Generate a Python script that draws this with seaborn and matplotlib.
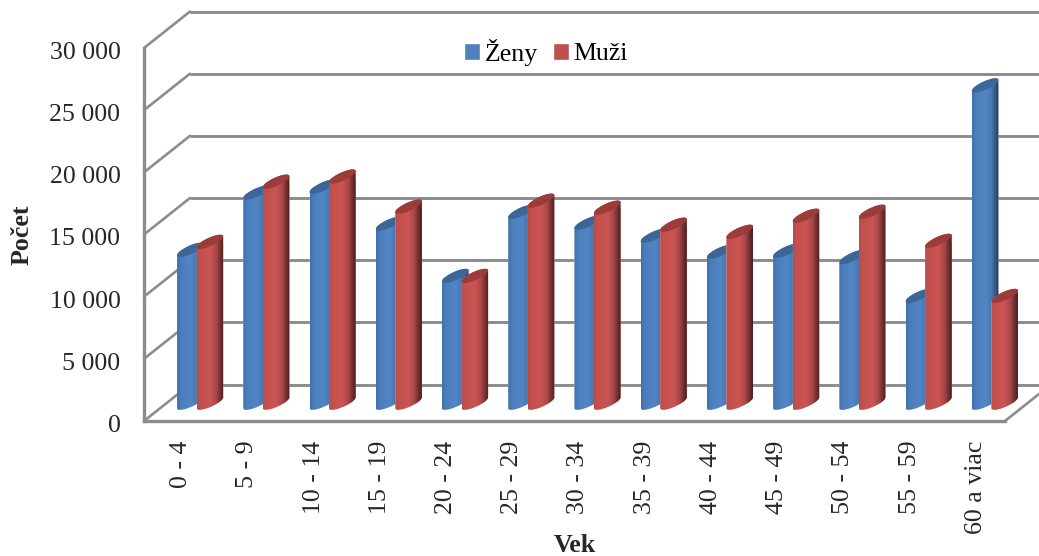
import numpy as np
import pandas as pd
import matplotlib
matplotlib.use("Agg")
import matplotlib.pyplot as plt
from matplotlib.colors import LinearSegmentedColormap
from matplotlib.patches import Polygon
from matplotlib.transforms import ScaledTranslation
import seaborn as sns

categories = ["0 - 4", "5 - 9", "10 - 14", "15 - 19", "20 - 24", "25 - 29", "30 - 34",
              "35 - 39", "40 - 44", "45 - 49", "50 - 54", "55 - 59", "60 a viac"]
zeny = [12300, 16900, 17380, 14400, 10200, 15360, 14480, 13430, 12140, 12220, 11730, 8590, 25520]
muzi = [12940, 17780, 18190, 15770, 10200, 16250, 15690, 14320, 13750, 15040, 15360, 13020, 8590]
y_ticks = [0, 5000, 10000, 15000, 20000, 25000, 30000]
y_tick_labels = ["0", "5 000", "10 000", "15 000", "20 000", "25 000", "30 000"]
series_names = ["Ženy", "Muži"]

W, H = 1039, 556
GRID = "#8c8c8c"
LW = 2.1
FONT = 18.6

sns.set_theme(style="white")
plt.rcParams["font.family"] = ["Liberation Serif", "DejaVu Serif"]
plt.rcParams["text.color"] = "black"

df = pd.DataFrame({
    "Vek": categories * 2,
    "Počet": zeny + muzi,
    "Pohlavie": [series_names[0]] * len(categories) + [series_names[1]] * len(categories),
})

fig = plt.figure(figsize=(W / 100, H / 100), dpi=100, facecolor="white")

L, R, B, T = 144, 1005, 421, 48   # front plane in pixels
DX_PX, DY_PX = 46, 36.5           # depth of the plot box


def rect(dx=0.0, dy=0.0):
    return [(L + dx) / W, 1 - (B - dy) / H, (R - L) / W, (B - T) / H]


ax = fig.add_axes(rect(), zorder=1)
ax.patch.set_alpha(0)
xlim = (-0.5, len(categories) - 0.5)
ylim = (0, 30000)
ax.set_xlim(*xlim)
ax.set_ylim(*ylim)
ux = (R - L) / len(categories)
uy = (B - T) / 30000
dx, dy = DX_PX / ux, DY_PX / uy

# back wall and depth lines
for t in y_ticks:
    ax.plot([xlim[0] + dx, xlim[1] + dx], [t + dy, t + dy], color=GRID, lw=LW, clip_on=False, solid_capstyle="butt")
    ax.plot([xlim[0], xlim[0] + dx], [t, t + dy], color=GRID, lw=LW * 0.9, clip_on=False)
ax.plot([xlim[1], xlim[1] + dx], [0, dy], color=GRID, lw=LW * 0.9, clip_on=False)

for s in ["top", "right"]:
    ax.spines[s].set_visible(False)
for s in ["left", "bottom"]:
    ax.spines[s].set_color(GRID)
    ax.spines[s].set_linewidth(LW + 0.3)

ax.set_xticks(range(len(categories)))
ax.set_xticklabels(categories, rotation=90, ha="center", va="top", fontsize=FONT)
ax.set_yticks(y_ticks)
ax.set_yticklabels(y_tick_labels, fontsize=FONT)
ax.tick_params(axis="x", length=0, pad=14)
ax.tick_params(axis="y", length=0, pad=17)
shift_x = ScaledTranslation(4 / 100, 0, fig.dpi_scale_trans)
shift_y = ScaledTranslation(0, -2.5 / 100, fig.dpi_scale_trans)
for lab in ax.get_xticklabels():
    lab.set_transform(lab.get_transform() + shift_x)
for lab in ax.get_yticklabels():
    lab.set_transform(lab.get_transform() + shift_y)
ax.set_xlabel("Vek", fontsize=FONT, fontweight="bold")
ax.set_ylabel("Počet", fontsize=FONT, fontweight="bold")
ax.xaxis.set_label_coords((575 - L) / (R - L), (B - 545) / (B - T), transform=ax.transAxes)
ax.xaxis.label.set_va("center")
ax.yaxis.set_label_coords((22 - L) / (R - L), (B - 235) / (B - T), transform=ax.transAxes)
ax.yaxis.label.set_va("center")

# bars sit halfway through the depth of the box
ab = fig.add_axes(rect(DX_PX / 2, DY_PX / 2), zorder=2)
ab.patch.set_alpha(0)
palette = ["#4f81bd", "#c0504d"]
sns.barplot(data=df, x="Vek", y="Počet", hue="Pohlavie", hue_order=series_names, order=categories,
            palette=palette, width=0.59, saturation=1, ax=ab, legend=False)

cmaps = [
    LinearSegmentedColormap.from_list("b", [(0, "#3f70aa"), (0.12, "#4a7cb9"), (0.5, "#5286c6"),
                                            (0.72, "#4a78b0"), (0.88, "#34577f"), (1, "#20385a")]),
    LinearSegmentedColormap.from_list("r", [(0, "#b54c49"), (0.12, "#c4504d"), (0.5, "#ca5553"),
                                            (0.72, "#a8474a"), (0.88, "#6f2e2d"), (1, "#4a1e1d")]),
]
caps = ["#3d6698", "#9b3c3a"]

half_w = 13.3 / ux
s_rise = 5.5 / uy
b_minor = 4.5 / uy
grad = np.linspace(0, 1, 128)[None, :]

for k, container in enumerate(ab.containers):
    base_z = 3 + k
    for patch in container.patches:
        cx = patch.get_x() + patch.get_width() / 2
        h = patch.get_height()
        patch.set_x(cx - half_w)
        patch.set_width(2 * half_w)
        t_low = np.linspace(np.pi, 2 * np.pi, 50)
        t_up = np.linspace(0, np.pi, 50)
        low = np.c_[cx + half_w * np.cos(t_low), s_rise * np.cos(t_low) + b_minor * np.sin(t_low)]
        up = np.c_[cx + half_w * np.cos(t_up), h + s_rise * np.cos(t_up) + b_minor * np.sin(t_up)]
        body = np.vstack([low, up])
        outline = Polygon(body, closed=True, transform=ab.transData)
        patch.set_clip_path(outline)
        patch.set_clip_box(fig.bbox)
        patch.set_zorder(base_z)
        im = ab.imshow(grad, cmap=cmaps[k], extent=[cx - half_w, cx + half_w, -1500, h + 1500],
                       aspect="auto", zorder=base_z + 0.1, interpolation="bilinear")
        im.set_clip_path(outline)
        im.set_clip_box(fig.bbox)
        t_all = np.linspace(0, 2 * np.pi, 100)
        cap = np.c_[cx + half_w * np.cos(t_all), h + s_rise * np.cos(t_all) + b_minor * np.sin(t_all)]
        ab.add_patch(Polygon(cap, closed=True, facecolor=caps[k], edgecolor="none",
                             zorder=base_z + 0.2, clip_on=False))

ab.set_xlim(*xlim)
ab.set_ylim(*ylim)
ab.axis("off")

handles = [c.patches[0] for c in ab.containers]
leg = fig.legend(handles, series_names, loc="center", bbox_to_anchor=(546 / W, 1 - 52 / H), ncol=2,
                 frameon=False, fontsize=FONT, handlelength=0.62, handleheight=0.62,
                 handletextpad=0.2, columnspacing=0.55, borderpad=0)
leg.set_zorder(5)
for h_ in leg.legend_handles:
    h_.set_clip_path(None)

fig.savefig("out.png", dpi=100, facecolor="white")
